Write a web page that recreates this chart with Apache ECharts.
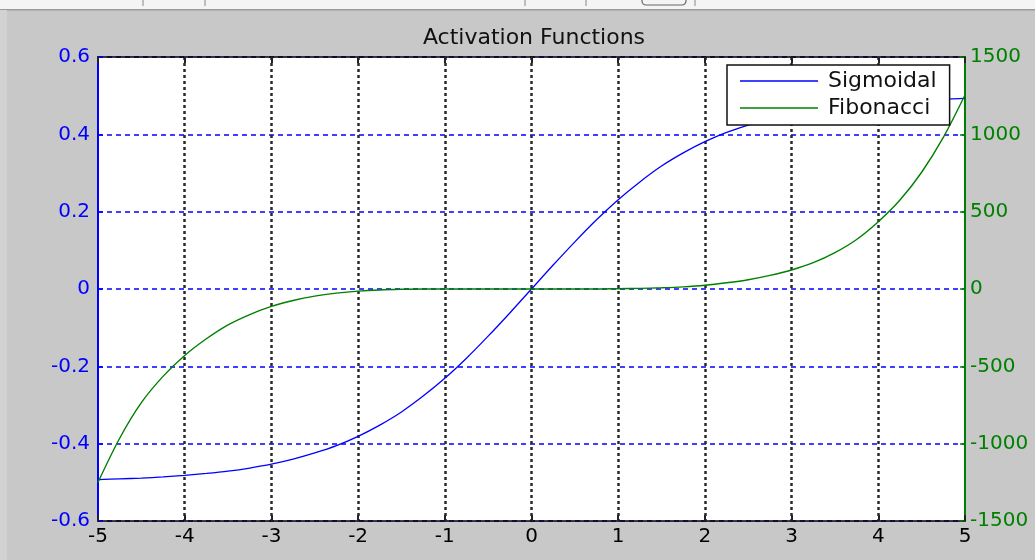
<!DOCTYPE html>
<html>
<head>
<meta charset="utf-8">
<script src="https://cdn.jsdelivr.net/npm/echarts@6/dist/echarts.min.js"></script>
<style>
html,body{margin:0;padding:0;background:#c8c8c8;}
#chart{width:1035px;height:560px;}
</style>
</head>
<body>
<div id="chart"></div>
<script>
// ---- data ----
var title = 'Activation Functions';
var seriesNames = ['Sigmoidal', 'Fibonacci'];
var xValues = [-5, -4.75, -4.5, -4.25, -4, -3.75, -3.5, -3.25, -3, -2.75, -2.5, -2.25, -2, -1.75, -1.5, -1.25, -1, -0.75, -0.5, -0.25,
  0, 0.25, 0.5, 0.75, 1, 1.25, 1.5, 1.75, 2, 2.25, 2.5, 2.75, 3, 3.25, 3.5, 3.75, 4, 4.25, 4.5, 4.75, 5];
var sigmoidal = [-0.493, -0.491, -0.489, -0.486, -0.482, -0.477, -0.471, -0.463, -0.453, -0.440, -0.424, -0.405, -0.381, -0.352, -0.318, -0.277, -0.231, -0.179, -0.122, -0.062,
  0, 0.062, 0.122, 0.179, 0.231, 0.277, 0.318, 0.352, 0.381, 0.405, 0.424, 0.440, 0.453, 0.463, 0.471, 0.477, 0.482, 0.486, 0.489, 0.491, 0.493];
var fibonacci = [-1250, -965, -735, -565, -430, -322, -232, -165, -112, -74, -46, -27, -14, -6, -2, 0, 0, 0, 0, 0,
  0, 0, 0, 0, 2, 4, 8, 14, 24, 40, 60, 88, 123, 170, 235, 320, 435, 575, 755, 980, 1254];
var xTicks = {min: -5, max: 5, step: 1};
var leftTicks = {min: -0.6, max: 0.6, step: 0.2};
var rightTicks = {min: -1500, max: 1500, step: 500};

// ---- chart ----
var FONT = 'DejaVu Sans';
var BLUE = '#0000ff', GREEN = '#008000', BLACK = '#000000';
function pairs(ys){ return xValues.map(function(x,i){ return [x, ys[i]]; }); }

var chart = echarts.init(document.getElementById('chart'), null, {renderer:'canvas'});
var option = {
  backgroundColor: '#c8c8c8',
  animation: false,
  title: {
    text: title, left: 529, top: 22, textAlign: 'center',
    textStyle: {fontFamily: FONT, fontSize: 22, fontWeight: 'normal', color: '#111'}
  },
  legend: {
    data: seriesNames, orient: 'vertical', left: 727, top: 65,
    backgroundColor: '#ffffff', borderColor: '#111', borderWidth: 1.5, borderRadius: 0,
    padding: [5, 13, 6, 13], icon: 'rect', itemWidth: 78, itemHeight: 1.5, itemGap: 5,
    textStyle: {fontFamily: FONT, fontSize: 22, lineHeight: 20, color: '#111', padding: [0,0,0,5]}
  },
  grid: {left: 98, right: 70, top: 57, bottom: 39, show: true, backgroundColor: '#ffffff', borderWidth: 0},
  xAxis: [{
    type: 'value', min: xTicks.min, max: xTicks.max, interval: xTicks.step, position: 'bottom',
    axisLine: {show: true, onZero: false, lineStyle: {color: BLACK, width: 1.5}},
    axisTick: {show: true, inside: true, length: 6, lineStyle: {color: '#222', width: 2}},
    axisLabel: {fontFamily: FONT, fontSize: 20, color: BLACK, margin: 6},
    splitLine: {show: true, showMinLine: false, showMaxLine: false, lineStyle: {color: '#2a2a2a', width: 2.5, type: [3, 3]}}
  }, {
    type: 'value', min: xTicks.min, max: xTicks.max, interval: xTicks.step, position: 'top',
    axisLine: {show: true, onZero: false, lineStyle: {color: BLACK, width: 1.5}},
    axisTick: {show: true, inside: true, length: 6, lineStyle: {color: '#222', width: 2}},
    axisLabel: {show: false}, splitLine: {show: false}
  }],
  yAxis: [{
    type: 'value', min: leftTicks.min, max: leftTicks.max, interval: leftTicks.step, position: 'left',
    axisLine: {show: true, onZero: false, lineStyle: {color: BLUE, width: 2}},
    axisTick: {show: true, inside: true, length: 5, lineStyle: {color: BLUE, width: 1.5}},
    axisLabel: {fontFamily: FONT, fontSize: 20, color: BLUE, margin: 8,
      formatter: function(v){ return Math.abs(v) < 1e-9 ? '0' : String(+v.toFixed(1)); }},
    splitLine: {show: true, lineStyle: {color: BLUE, width: 1.5, type: [5, 4]}}
  }, {
    type: 'value', min: rightTicks.min, max: rightTicks.max, interval: rightTicks.step, position: 'right',
    axisLine: {show: true, onZero: false, lineStyle: {color: GREEN, width: 2}},
    axisTick: {show: true, inside: true, length: 5, lineStyle: {color: GREEN, width: 1.5}},
    axisLabel: {fontFamily: FONT, fontSize: 20, color: GREEN, margin: 5,
      formatter: function(v){ return String(Math.round(v)); }},
    splitLine: {show: false}
  }],
  series: [{
    name: seriesNames[0], type: 'line', xAxisIndex: 0, yAxisIndex: 0, data: pairs(sigmoidal),
    symbol: 'none', smooth: 0.3, lineStyle: {color: BLUE, width: 1.3}, itemStyle: {color: BLUE}, z: 3
  }, {
    name: seriesNames[1], type: 'line', xAxisIndex: 0, yAxisIndex: 1, data: pairs(fibonacci),
    symbol: 'none', smooth: 0.3, lineStyle: {color: GREEN, width: 1.4}, itemStyle: {color: GREEN}, z: 3
  }],
  graphic: [
    {type: 'rect', left: 0, top: 0, shape: {width: 1035, height: 9}, style: {fill: '#f4f4f4'}, silent: true},
    {type: 'rect', left: 0, top: 9, shape: {width: 1035, height: 1.5}, style: {fill: '#9a9a9a'}, silent: true},
    {type: 'rect', left: 0, top: 10, shape: {width: 7, height: 550}, style: {fill: '#d2d2d2'}, silent: true},
    {type: 'line', shape: {x1: 143, y1: 0, x2: 143, y2: 6}, style: {stroke: '#888', lineWidth: 1}, silent: true},
    {type: 'line', shape: {x1: 205, y1: 0, x2: 205, y2: 6}, style: {stroke: '#888', lineWidth: 1}, silent: true},
    {type: 'line', shape: {x1: 525, y1: 0, x2: 525, y2: 6}, style: {stroke: '#888', lineWidth: 1}, silent: true},
    {type: 'line', shape: {x1: 586, y1: 0, x2: 586, y2: 6}, style: {stroke: '#888', lineWidth: 1}, silent: true},
    {type: 'rect', shape: {x: 642, y: -8, width: 44, height: 13, r: 4}, style: {fill: 'none', stroke: '#666', lineWidth: 1.2}, silent: true},
    {type: 'line', shape: {x1: 695, y1: 0, x2: 695, y2: 6}, style: {stroke: '#888', lineWidth: 1}, silent: true}
  ]
};
chart.setOption(option);
</script>
</body>
</html>
